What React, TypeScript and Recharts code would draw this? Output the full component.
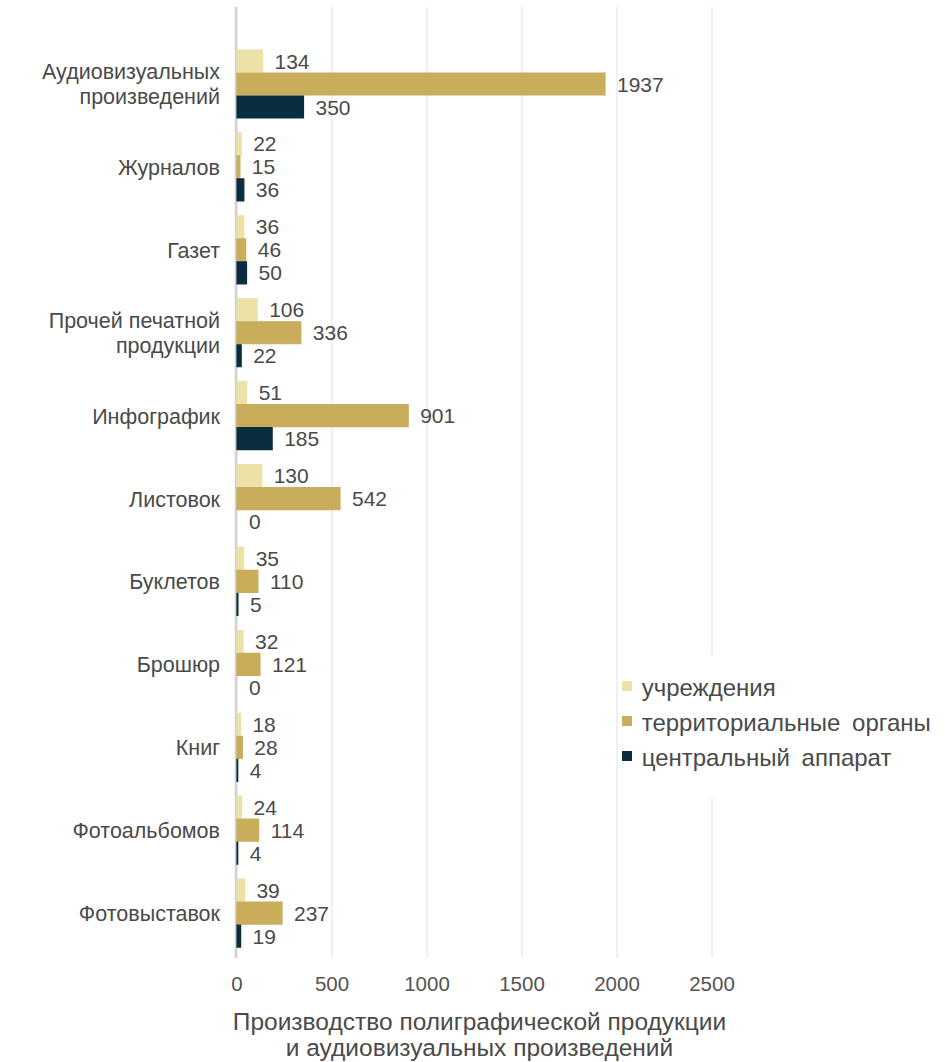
import { BarChart, Bar, XAxis, YAxis, CartesianGrid, Legend, LabelList, Cell } from "recharts";

const categories = [
  "Аудиовизуальных\nпроизведений",
  "Журналов",
  "Газет",
  "Прочей печатной\nпродукции",
  "Инфографик",
  "Листовок",
  "Буклетов",
  "Брошюр",
  "Книг",
  "Фотоальбомов",
  "Фотовыставок",
];
const institutions = [134, 22, 36, 106, 51, 130, 35, 32, 18, 24, 39];
const territorial = [1937, 15, 46, 336, 901, 542, 110, 121, 28, 114, 237];
const central = [350, 36, 50, 22, 185, 0, 5, 0, 4, 4, 19];
const xTicks = [0, 500, 1000, 1500, 2000, 2500];

const series = [
  { key: "institutions", name: "учреждения", color: "#ECE2A8", values: institutions },
  { key: "territorial", name: "территориальные органы", color: "#C9AD5B", values: territorial },
  { key: "central", name: "центральный аппарат", color: "#0A2D3F", values: central },
];

const data = categories.map((name, i) => ({
  name,
  institutions: institutions[i],
  territorial: territorial[i],
  central: central[i],
}));

const FONT = "'Liberation Sans', Arial, sans-serif";
const TEXT = "#4a4a4a";

function CategoryTick({ x, y, payload }: any) {
  const lines = String(payload.value).split("\n");
  const lh = 25;
  const start = -((lines.length - 1) * lh) / 2;
  return (
    <text x={x - 9} y={y} textAnchor="end" fontSize={21.5} fill={TEXT} fontFamily={FONT}>
      {lines.map((l, i) => (
        <tspan key={i} x={x - 9} y={y + start + i * lh} dy="0.35em">
          {l}
        </tspan>
      ))}
    </text>
  );
}

function ValueLabel(props: any) {
  const { x, y, width, height, value } = props;
  return (
    <text x={x + (width || 0) + 12} y={y + height / 2} dy="0.36em" fontSize={21} fill={TEXT} fontFamily={FONT}>
      {value}
    </text>
  );
}

function AxisTitle({ viewBox }: any) {
  const cx = viewBox.x + viewBox.width / 2 + 5;
  return (
    <text textAnchor="middle" fontSize={24.5} fill={TEXT} fontFamily={FONT}>
      <tspan x={cx} y={1030}>Производство полиграфической продукции</tspan>
      <tspan x={cx} y={1056}>и аудиовизуальных произведений</tspan>
    </text>
  );
}

function LegendBox() {
  return (
    <div style={{ position: "relative", background: "#fff", width: 325, height: 142 }}>
      {series.map((s, i) => (
        <div
          key={s.key}
          style={{ position: "absolute", left: 0, top: 15.4 + 35 * i, height: 35, lineHeight: "35px", whiteSpace: "nowrap" }}
        >
          <span style={{ position: "absolute", left: 1.7, top: 10.6, width: 10, height: 10, background: s.color }} />
          <span style={{ position: "absolute", left: 21.7, top: 0, fontFamily: FONT, fontSize: 24, color: TEXT, wordSpacing: 5 }}>
            {s.name}
          </span>
        </div>
      ))}
    </div>
  );
}

export default function App() {
  return (
    <div style={{ position: "absolute", left: 0, top: 0, background: "#fff" }}>
      <BarChart
        width={945}
        height={1062}
        data={data}
        layout="vertical"
        margin={{ top: 7, right: 233, bottom: 0, left: 0 }}
        barGap={1}
        barSize={22}
      >
        <CartesianGrid horizontal={false} vertical stroke="#e2e2e2" />
        {/* value axis baseline, kept under the bars so tiny values stay visible */}
        <CartesianGrid horizontal={false} vertical verticalPoints={[236]} stroke="#d2d2d2" strokeWidth={2.5} />
        <XAxis
          type="number"
          domain={[0, 2500]}
          ticks={xTicks}
          axisLine={false}
          tickLine={false}
          tickSize={0}
          tickMargin={18}
          height={104}
          tick={{ fontSize: 20.5, fill: "#555", fontFamily: FONT }}
          label={<AxisTitle />}
        />
        <YAxis
          type="category"
          dataKey="name"
          width={237}
          axisLine={false}
          tickLine={false}
          padding={{ top: 36, bottom: 3 }}
          tick={<CategoryTick />}
        />
        <Legend
          layout="vertical"
          align="center"
          verticalAlign="middle"
          wrapperStyle={{ left: 620, top: 655, width: 325 }}
          content={() => <LegendBox />}
        />
        {series.map((s) => (
          <Bar
            key={s.key}
            dataKey={s.key}
            name={s.name}
            fill={s.color}
            minPointSize={(v: number) => (v === 0 ? 0.001 : 0)}
            isAnimationActive={false}
          >
            {s.values.map((v, i) => (
              <Cell key={i} stroke={v > 0 ? s.color : "none"} strokeWidth={v > 0 ? 1.2 : 0} />
            ))}
            <LabelList dataKey={s.key} content={<ValueLabel />} />
          </Bar>
        ))}
      </BarChart>
    </div>
  );
}
